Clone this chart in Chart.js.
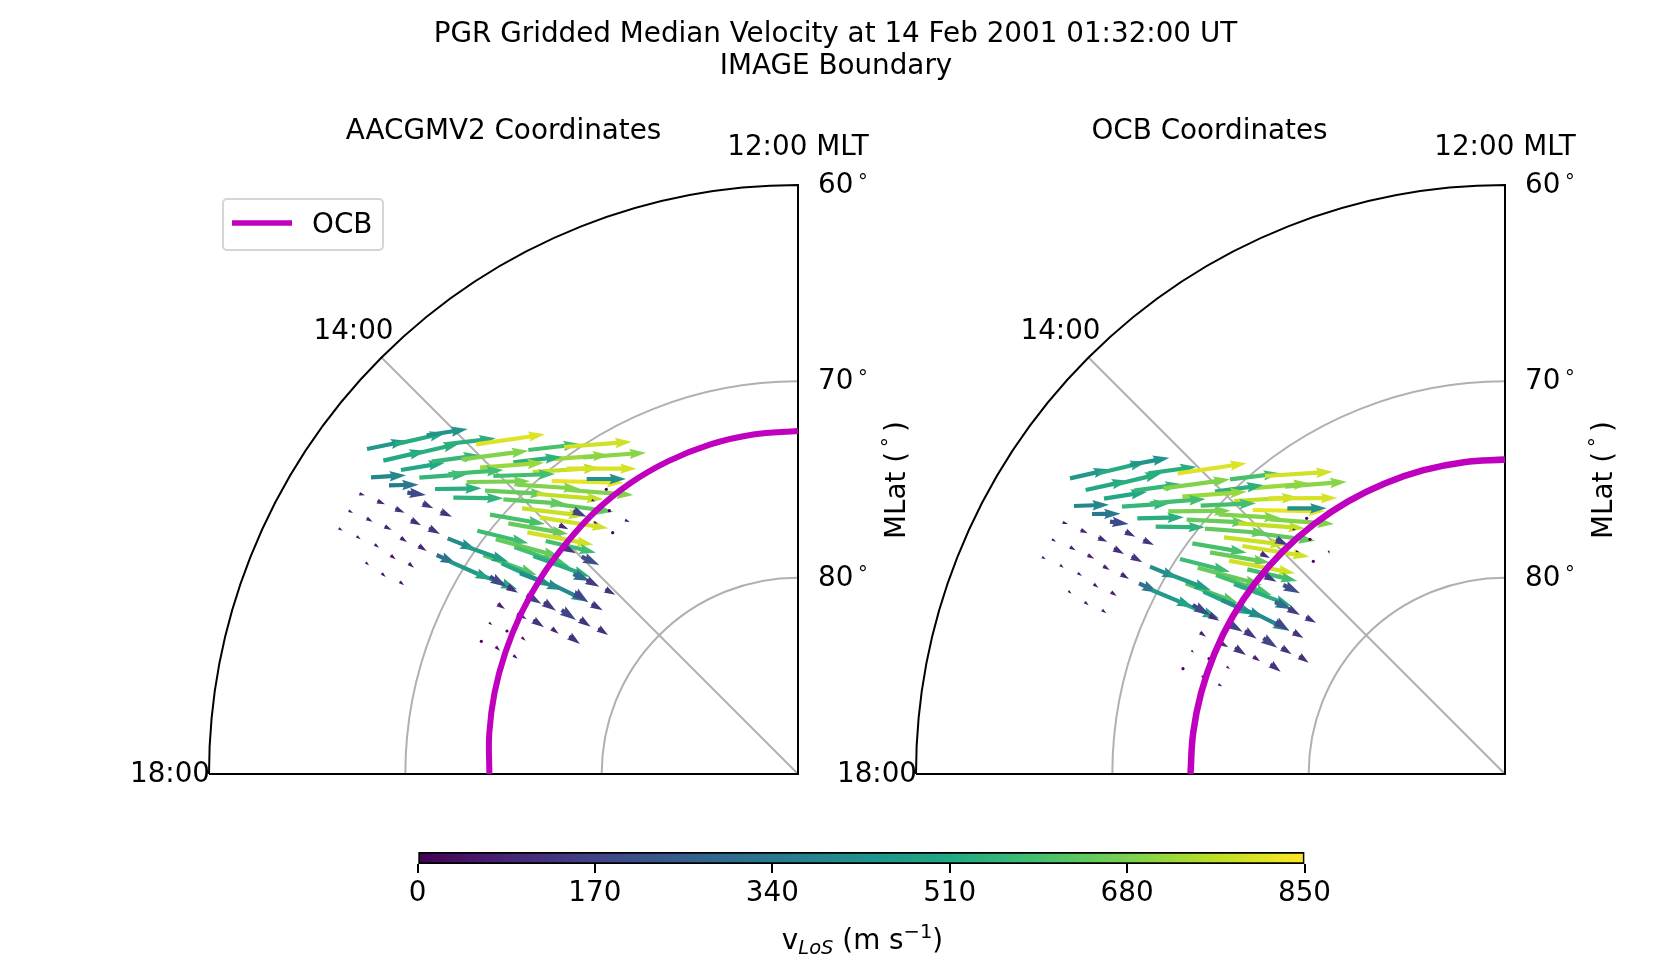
<!DOCTYPE html>
<html><head><meta charset="utf-8">
<style>html,body{margin:0;padding:0;background:#fff;width:1672px;height:960px;overflow:hidden}
canvas{position:absolute;left:0;top:0}</style>
<script src="https://cdn.jsdelivr.net/npm/chart.js@4/dist/chart.umd.min.js"></script>
</head><body>
<canvas id="left" width="1672" height="960"></canvas>
<canvas id="right" width="1672" height="960"></canvas>
<canvas id="cbar" width="1672" height="960"></canvas>
<script>
// map units measured from the magnetic pole on the polar projection (58.9 units = 1 degree of latitude)
const UNITS_PER_DEG = 58.9;
const latTicks = [60,70,80];
const colorTicks = [0,170,340,510,680,850];
const ocbMlt = [12,12.5,13,13.5,14,14.5,15,15.5,16,16.5,17,17.5,18];
const ocbLatAacgm = [72.53,72.56,72.63,72.75,72.9,73.1,73.34,73.52,73.7,73.86,74.0,74.14,74.28];
const ocbLatOcb = [73.98,73.98,73.98,73.98,73.98,73.98,73.98,73.98,73.98,73.98,73.98,73.98,73.98];
// [tailX, tailY, headX, headY, speed m/s]
const aacgmArrows = [
[-1293,975,-1172,1000,450],[-1209,989,-1056,1024,520],[-1114,1016,-991,1035,440],[-1244,940,-1116,970,510],
[-1164,957,-1014,992,530],[-1054,990,-907,1007,530],[-966,989,-759,1019,810],[-1191,912,-1059,934,510],
[-1099,937,-954,957,560],[-1009,944,-809,970,690],[-809,972,-654,990,600],[-702,981,-499,997,790],
[-749,944,-566,957,720],[-644,950,-456,964,700],[-854,935,-709,952,540],[-954,919,-762,934,720],
[-796,906,-594,919,770],[-694,916,-484,916,800],[-1281,890,-1176,896,390],[-1136,889,-989,900,560],
[-1049,900,-884,912,590],[-914,894,-729,900,590],[-1227,866,-1138,868,340],[-739,879,-524,874,820],
[-634,885,-516,885,420],[-1172,844,-1116,837,190],[-1089,855,-949,857,530],[-994,876,-804,878,680],
[-844,868,-654,856,690],[-1034,829,-884,827,550],[-939,850,-754,840,650],[-784,840,-584,824,770],
[-689,852,-494,837,690],[-884,824,-694,810,640],[-744,812,-554,787,640],[-828,797,-639,774,780],
[-774,770,-569,737,790],[-924,778,-759,750,600],[-869,752,-689,720,650],[-812,725,-614,688,790],
[-757,699,-606,664,590],[-962,730,-809,692,580],[-907,704,-714,652,650],[-851,681,-684,622,600],
[-944,657,-784,597,620],[-794,654,-624,592,530],[-1051,707,-964,672,410],[-994,682,-869,637,470],
[-1084,657,-1024,630,320],[-1044,637,-919,582,460],[-964,602,-842,554,500],[-889,632,-734,562,510],
[-834,602,-704,552,410],[-744,572,-631,517,400],
[-1316,841,-1299,836,60],[-1262,819,-1239,809,90],[-1208,796,-1180,784,110],[-1126,812,-1094,797,130],
[-1072,787,-1038,772,130],[-1348,790,-1335,783,50],[-1294,767,-1276,757,70],[-1240,743,-1219,732,80],
[-1161,762,-1131,746,110],[-1107,738,-1074,720,130],[-1378,737,-1366,730,40],[-1324,713,-1312,704,50],
[-1270,689,-1257,679,50],[-1192,709,-1173,696,75],[-1138,685,-1114,669,90],[-1297,635,-1287,626,40],
[-1222,656,-1207,644,55],[-1168,632,-1152,619,60],[-1249,602,-1237,591,45],[-1195,577,-1182,566,45],
[-674,790,-634,772,160],[-716,747,-689,734,100],[-704,682,-666,662,150],[-649,652,-596,627,200],
[-674,600,-624,579,300],[-634,582,-596,562,150],[-578,554,-548,538,120],[-924,592,-874,562,190],
[-872,562,-840,544,120],[-814,537,-770,511,170],[-762,515,-726,490,140],[-709,492,-666,462,170],
[-619,510,-586,491,125],[-901,510,-879,495,85],[-842,482,-814,464,105],[-794,462,-762,440,125],
[-739,437,-718,421,80],[-654,464,-622,442,125],[-599,437,-570,417,115],[-686,414,-654,390,120],
[-927,454,-917,447,40],[-829,410,-817,400,40],[-907,382,-894,370,45],[-854,356,-841,346,40],
[-669,544,-629,515,180],[-619,822,-608,818,40],[-519,762,-505,756,45],[-612,756,-600,751,30],
[-950,398,-950,398,5],[-873,429,-873,429,5],[-575,854,-575,854,5],[-566,790,-566,790,5],[-556,724,-556,724,5]
];
const ocbArrows = [
[-1305,887,-1185,914,450],[-1220,902,-1075,937,520],[-1125,927,-1007,949,440],[-1258,852,-1130,880,510],
[-1175,867,-1030,902,530],[-1070,902,-925,922,530],[-982,902,-775,932,810],[-1203,826,-1073,847,510],
[-1113,850,-970,870,560],[-1025,857,-825,884,690],[-825,884,-675,902,600],[-720,894,-517,907,790],
[-765,857,-585,872,720],[-660,862,-475,877,700],[-870,847,-725,867,540],[-968,832,-775,847,720],
[-813,819,-620,830,770],[-710,827,-503,828,800],[-1293,804,-1188,808,390],[-1149,802,-1005,812,560],
[-1065,812,-898,825,590],[-913,805,-747,812,590],[-1239,780,-1153,781,340],[-757,792,-540,788,820],
[-653,797,-535,797,420],[-1185,757,-1129,750,190],[-1103,767,-963,770,530],[-1010,788,-823,790,680],
[-860,779,-673,768,690],[-1048,742,-900,740,550],[-955,763,-770,754,650],[-800,752,-600,737,770],
[-705,764,-513,750,690],[-900,736,-710,722,640],[-760,724,-570,700,640],[-843,710,-655,687,780],
[-788,684,-587,652,790],[-938,692,-775,664,600],[-885,665,-705,634,650],[-828,640,-630,602,790],
[-773,614,-623,579,590],[-975,645,-825,607,580],[-922,619,-730,567,650],[-867,597,-700,537,600],
[-958,572,-800,512,620],[-813,570,-640,504,530],[-1065,622,-980,587,410],[-1010,600,-883,552,470],
[-1098,572,-1040,544,320],[-1060,552,-935,500,460],[-980,517,-858,467,500],[-905,547,-750,477,510],
[-850,522,-720,467,410],[-760,487,-647,430,400],
[-1327,755,-1311,750,60],[-1273,732,-1252,722,90],[-1220,709,-1193,697,110],[-1139,727,-1109,712,130],
[-1085,702,-1053,687,130],[-1359,704,-1347,697,50],[-1305,681,-1288,671,70],[-1252,657,-1232,646,80],
[-1173,677,-1143,660,110],[-1120,653,-1088,635,130],[-1389,651,-1378,644,40],[-1335,627,-1324,619,50],
[-1282,603,-1269,594,50],[-1205,624,-1186,612,75],[-1152,600,-1128,585,90],[-1310,549,-1300,541,40],
[-1234,570,-1220,559,55],[-1182,546,-1165,534,60],[-1261,516,-1249,506,45],[-1209,492,-1196,482,45],
[-687,704,-650,686,160],[-733,662,-705,648,100],[-720,595,-685,577,150],[-665,567,-615,542,200],
[-690,517,-640,494,300],[-650,497,-615,477,150],[-597,470,-567,454,120],[-937,507,-885,477,190],
[-887,477,-857,460,120],[-830,452,-787,427,170],[-780,430,-745,406,140],[-725,407,-683,379,170],
[-635,426,-605,408,125],[-915,425,-897,412,85],[-860,397,-830,380,105],[-810,379,-777,357,125],
[-755,352,-735,338,80],[-670,379,-640,359,125],[-617,354,-589,334,115],[-703,330,-673,307,120],
[-941,371,-933,364,40],[-835,322,-825,315,40],[-910,294,-900,287,45],[-860,269,-848,263,40],
[-687,457,-647,430,180],[-637,734,-627,732,40],[-529,670,-527,660,45],[-627,669,-617,665,30],
[-966,316,-966,316,5],[-888,346,-888,346,5],[-595,767,-595,767,5],[-585,704,-585,704,5],[-575,638,-575,638,5]
];
const viridis = ['#440154','#482475','#414487','#355f8d','#2a788e','#21918c','#22a884','#44bf70','#7ad151','#bddf26','#fde725'];
const FONT = '"DejaVu Sans"';
const FS = 27.8;
const SMALL = 19.5;
const OCB_COLOR = '#bf00bf';
const GRID = '#b0b0b0';

function hex(c){return [1,3,5].map(i=>parseInt(c.substr(i,2),16));}
function cmap(v){
  const t=Math.max(0,Math.min(1,v/850))*(viridis.length-1), i=Math.min(Math.floor(t),viridis.length-2), f=t-i;
  const a=hex(viridis[i]), b=hex(viridis[i+1]);
  return 'rgb('+a.map((q,k)=>Math.round(q+(b[k]-q)*f)).join(',')+')';
}
function ocbPoints(lats){
  return ocbMlt.map((m,i)=>{
    const th=(m-12)*15*Math.PI/180, r=(90-lats[i])*UNITS_PER_DEG;
    return {x:-r*Math.sin(th), y:r*Math.cos(th)};
  });
}
function text(ctx,s,x,y,align,base,size,rot,style){
  ctx.save();
  ctx.font=(style||'')+' '+(size||FS)+'px '+FONT;
  ctx.fillStyle='#000';ctx.textAlign=align||'center';ctx.textBaseline=base||'middle';
  ctx.translate(x,(base||'middle')==='middle'?y+3:y); if(rot) ctx.rotate(rot);
  ctx.fillText(s,0,0);
  ctx.restore();
}
const polarFrame = {
  id:'polarFrame',
  beforeDatasetsDraw(chart,args,opts){
    const ctx=chart.ctx, sx=chart.scales.x, sy=chart.scales.y;
    const cx=sx.getPixelForValue(0), cy=sy.getPixelForValue(0);
    const rad=lat=>cx-sx.getPixelForValue(-(90-lat)*UNITS_PER_DEG);
    ctx.save();
    ctx.lineWidth=2;ctx.strokeStyle=GRID;
    [70,80].forEach(l=>{ctx.beginPath();ctx.arc(cx,cy,rad(l),Math.PI,1.5*Math.PI);ctx.stroke();});
    const R=30*UNITS_PER_DEG*Math.SQRT1_2;
    ctx.beginPath();ctx.moveTo(cx,cy);ctx.lineTo(sx.getPixelForValue(-R),sy.getPixelForValue(R));ctx.stroke();
    ctx.strokeStyle='#000';
    ctx.beginPath();ctx.moveTo(cx-rad(60),cy);ctx.lineTo(cx,cy);ctx.lineTo(cx,cy-rad(60));
    ctx.arc(cx,cy,rad(60),1.5*Math.PI,Math.PI,true);ctx.stroke();
    // quiver arrows
    opts.arrows.forEach(a=>{
      const x0=sx.getPixelForValue(a[0]),y0=sy.getPixelForValue(a[1]),x1=sx.getPixelForValue(a[2]),y1=sy.getPixelForValue(a[3]);
      const L=Math.hypot(x1-x0,y1-y0);
      ctx.fillStyle=cmap(a[4]);
      if(L<1){ctx.beginPath();ctx.arc(x0,y0,1.6,0,2*Math.PI);ctx.fill();return;}
      const s=Math.min(1,L/16.5), hl=16.5*s, ha=15*s, hw=5.2*s, sw=2.1*s;
      ctx.save();ctx.translate(x1,y1);ctx.rotate(Math.atan2(y1-y0,x1-x0));
      ctx.beginPath();ctx.moveTo(0,0);ctx.lineTo(-hl,-hw);ctx.lineTo(-ha,-sw);ctx.lineTo(-L,-sw);
      ctx.lineTo(-L,sw);ctx.lineTo(-ha,sw);ctx.lineTo(-hl,hw);ctx.closePath();ctx.fill();
      ctx.restore();
    });
    ctx.restore();
    // labels
    text(ctx,opts.title,opts.titleX,129);
    text(ctx,'12:00 MLT',cx,145);
    latTicks.forEach(l=>{
      const y=cy-rad(l);
      text(ctx,String(l),cx+20,y+8,'left','alphabetic');
      text(ctx,'\u00b0',cx+60,y+2.5,'left','alphabetic',SMALL);
    });
    text(ctx,'14:00',cx-444.5,329);
    text(ctx,'18:00',cx-628,772);
    const up=-Math.PI/2;
    text(ctx,'MLat (',cx+107,539,'left','alphabetic',FS,up);
    text(ctx,'\u00b0',cx+98.4,447,'left','alphabetic',SMALL,up);
    text(ctx,')',cx+107,432,'left','alphabetic',FS,up);
    if(opts.legend){
      ctx.save();
      ctx.beginPath();ctx.roundRect(223,199,160,51,4);ctx.fillStyle='rgba(255,255,255,.8)';ctx.fill();
      ctx.lineWidth=2;ctx.strokeStyle='#d5d5d5';ctx.stroke();
      ctx.beginPath();ctx.moveTo(232,223);ctx.lineTo(292,223);ctx.lineWidth=5.5;ctx.strokeStyle=OCB_COLOR;ctx.stroke();
      ctx.restore();
      text(ctx,'OCB',312,223,'left');
    }
  }
};
function panel(id,arrows,lats,title,titleX,legend,left,lineW){
  new Chart(document.getElementById(id),{
    type:'scatter',
    data:{datasets:[
      {label:'OCB',data:ocbPoints(lats),showLine:true,borderColor:OCB_COLOR,borderWidth:lineW,pointRadius:0,tension:0.4,fill:false,clip:false}
    ]},
    options:{
      responsive:false,animation:false,devicePixelRatio:1,
      layout:{padding:{left:left,right:1672-left-589,top:185,bottom:960-774}},
      scales:{
        x:{type:'linear',min:-30*UNITS_PER_DEG,max:0,display:false},
        y:{type:'linear',min:0,max:30*UNITS_PER_DEG,display:false}
      },
      plugins:{legend:{display:false},tooltip:{enabled:false},polarFrame:{arrows,title,titleX,legend}}
    },
    plugins:[polarFrame]
  });
}
panel('left',aacgmArrows,ocbLatAacgm,'AACGMV2 Coordinates',503.5,true,209,6);
panel('right',ocbArrows,ocbLatOcb,'OCB Coordinates',1209.5,false,916,6.5);

const figureText={
  id:'figureText',
  afterDraw(chart){
    const ctx=chart.ctx;
    text(ctx,'PGR Gridded Median Velocity at 14 Feb 2001 01:32:00 UT',835.5,32);
    text(ctx,'IMAGE Boundary',836,64);
    // colourbar label with sub- and superscripts
    const y=949;
    const parts=[['v',FS,0,''],['LoS',SMALL,5,'italic'],[' (m s',FS,0,''],['\u22121',SMALL,-11,''],[')',FS,0,'']];
    let w=0;
    ctx.save();
    parts.forEach(p=>{ctx.font=p[3]+' '+p[1]+'px '+FONT;p.w=ctx.measureText(p[0]).width;w+=p.w;});
    ctx.restore();
    let x=862.5-w/2;
    parts.forEach(p=>{text(ctx,p[0],x,y+p[2],'left','alphabetic',p[1],0,p[3]);x+=p.w;});
  }
};
new Chart(document.getElementById('cbar'),{
  type:'bar',
  data:{labels:['v'],datasets:[{data:[[colorTicks[0],colorTicks[colorTicks.length-1]]],
    borderColor:'#000',borderWidth:2,borderSkipped:false,barPercentage:1,categoryPercentage:1,
    backgroundColor(c){
      const a=c.chart.chartArea; if(!a) return '#000';
      const g=c.chart.ctx.createLinearGradient(a.left,0,a.right,0);
      viridis.forEach((col,i)=>g.addColorStop(i/(viridis.length-1),col));
      return g;
    }}]},
  options:{
    indexAxis:'y',responsive:false,animation:false,devicePixelRatio:1,
    layout:{padding:{left:417.5,right:1672-1304.5,top:852,bottom:46}},
    scales:{
      x:{type:'linear',min:0,max:850,border:{display:false},
        afterBuildTicks(ax){ax.ticks=colorTicks.map(v=>({value:v}));},
        afterFit(ax){ax.height=50;},
        grid:{drawOnChartArea:false,drawTicks:true,tickLength:9,color:'#000',lineWidth:2},
        ticks:{color:'#000',font:{family:FONT,size:FS},padding:4,maxRotation:0,autoSkip:false}},
      y:{display:false}
    },
    plugins:{legend:{display:false},tooltip:{enabled:false}}
  },
  plugins:[figureText]
});
</script></body></html>
